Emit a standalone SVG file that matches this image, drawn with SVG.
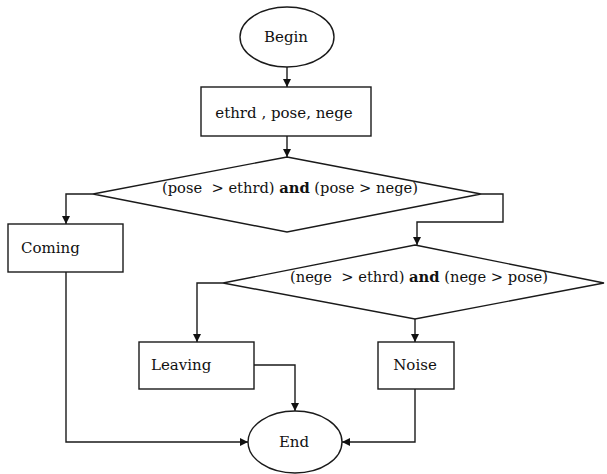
<svg xmlns="http://www.w3.org/2000/svg" width="607" height="474" viewBox="0 0 607 474">
<style>
.s{fill:#fff;stroke:#1a1a1a;stroke-width:1.4}
.c{fill:none;stroke:#1a1a1a;stroke-width:1.4}
text{font-family:"DejaVu Serif","Liberation Serif",serif;font-size:15px;fill:#111}
.m{text-anchor:middle}
</style>
<defs>
<marker id="a" viewBox="0 0 10 10" refX="10" refY="5" markerWidth="9" markerHeight="8" markerUnits="userSpaceOnUse" orient="auto">
<path d="M0,0 L10,5 L0,10 z" fill="#111"/>
</marker>
</defs>
<rect width="607" height="474" fill="#fff"/>
<g id="begin"><ellipse class="s" cx="287" cy="37" rx="47" ry="30"/><text class="m" x="286" y="42">Begin</text></g>
<g id="input"><rect class="s" x="201" y="87" width="170" height="49"/><text class="m" x="284" y="118">ethrd , pose, nege</text></g>
<g id="cond1"><polygon class="s" points="287,157 481,194 287,232 93,194"/><text x="162" y="193" textLength="256" lengthAdjust="spacingAndGlyphs">(pose&#160; &gt; ethrd) <tspan font-weight="bold">and</tspan> (pose &gt; nege)</text></g>
<g id="coming"><rect class="s" x="8" y="224" width="115" height="48"/><text x="21" y="253">Coming</text></g>
<g id="cond2"><polygon class="s" points="415,245 604,283 415,319 223,283"/><text x="290" y="282" textLength="258" lengthAdjust="spacingAndGlyphs">(nege&#160; &gt; ethrd) <tspan font-weight="bold">and</tspan> (nege &gt; pose)</text></g>
<g id="leaving"><rect class="s" x="139" y="342" width="115" height="47"/><text x="151" y="370">Leaving</text></g>
<g id="noise"><rect class="s" x="378" y="342" width="76" height="47"/><text class="m" x="415" y="370">Noise</text></g>
<g id="end"><ellipse class="s" cx="295" cy="442" rx="47" ry="31"/><text class="m" x="294" y="447">End</text></g>
<g id="connectors">
<path class="c" d="M287,67 V87" marker-end="url(#a)"/>
<path class="c" d="M287,136 V157" marker-end="url(#a)"/>
<path class="c" d="M93,194 H66 V224" marker-end="url(#a)"/>
<path class="c" d="M481,194 H503 V222 H417 V245" marker-end="url(#a)"/>
<path class="c" d="M223,283 H197 V342" marker-end="url(#a)"/>
<path class="c" d="M415,319 V342" marker-end="url(#a)"/>
<path class="c" d="M254,365 H295 V411" marker-end="url(#a)"/>
<path class="c" d="M66,272 V442 H248" marker-end="url(#a)"/>
<path class="c" d="M415,389 V442 H342" marker-end="url(#a)"/>
</g>
</svg>
